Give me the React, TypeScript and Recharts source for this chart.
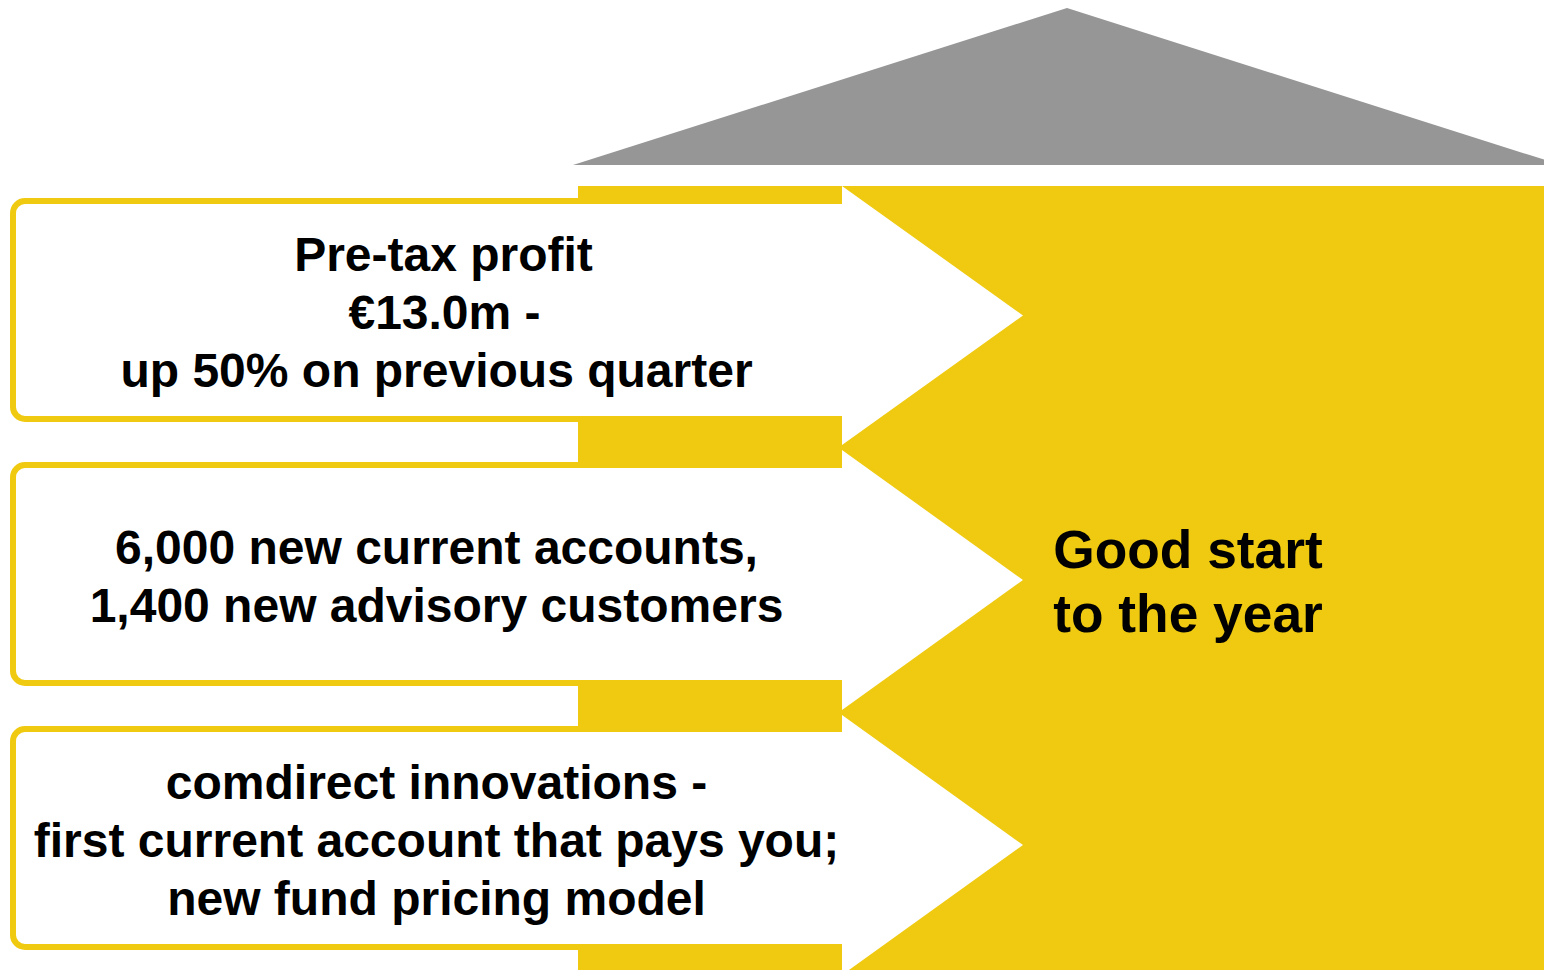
import React from 'react';
import { ComposedChart, XAxis, YAxis, ReferenceArea } from 'recharts';

// ---- content ----
const profitLines = ['Pre-tax profit', '€13.0m -', 'up 50% on previous quarter'];
const customerLines = ['6,000 new current accounts,', '1,400 new advisory customers'];
const innovationLines = ['comdirect innovations -', 'first current account that pays you;', 'new fund pricing model'];
const headlineLines = ['Good start', 'to the year'];
const messages = [profitLines, customerLines, innovationLines];

// ---- layout in chart units (axes map 1 unit = 1 px) ----
const boxTops = [201, 465, 729];
const boxBottoms = [419, 683, 947];
const arrowTops = [186, 450, 715];
const arrowBottoms = [445, 710, 975];
const lineShifts = [[7, 8, 0], [0, 0], [0, 0, 0]];

const YELLOW = '#EFCA11';
const GREY = '#969696';
const FONT = '"Liberation Sans", Arial, Helvetica, sans-serif';

const W = 1544;
const H = 970;

const makeBoxShape = (lines: string[], shifts: number[]) => (props: any) => {
  const { x, y, width, height } = props;
  const cx = x + width / 2;
  const cy = y + height / 2;
  const lh = 58;
  const first = cy - ((lines.length - 1) * lh) / 2 + 19;
  return (
    <g>
      <rect x={x} y={y} width={width} height={height} rx={12} ry={12} fill="#ffffff" stroke={YELLOW} strokeWidth={6} />
      <text textAnchor="middle" fontFamily={FONT} fontWeight="bold" fontSize={48} fill="#000000">
        {lines.map((l, i) => (
          <tspan key={i} x={cx + (shifts[i] || 0)} y={first + i * lh}>
            {l}
          </tspan>
        ))}
      </text>
    </g>
  );
};

const arrowShape = (props: any) => {
  const { x, y, width, height } = props;
  const pts = `${x},${y} ${x + width},${y + height / 2} ${x},${y + height}`;
  return <polygon points={pts} fill="#ffffff" stroke="none" />;
};

const roofShape = (props: any) => {
  const { x, y, width, height } = props;
  const pts = `${x},${y + height} ${x + width / 2},${y} ${x + width},${y + height}`;
  return <polygon points={pts} fill={GREY} stroke="none" />;
};

const headlineShape = (props: any) => {
  const { x, y, width, height } = props;
  const cx = x + width / 2;
  const cy = y + height / 2;
  const lh = 64;
  const first = cy - ((headlineLines.length - 1) * lh) / 2 + 19;
  return (
    <text textAnchor="middle" fontFamily={FONT} fontWeight="bold" fontSize={53.3} fill="#000000">
      {headlineLines.map((l, i) => (
        <tspan key={i} x={cx} y={first + i * lh}>
          {l}
        </tspan>
      ))}
    </text>
  );
};

const bgShape = (props: any) => {
  const { x, y, width, height } = props;
  return <rect x={x} y={y} width={width} height={height} fill={YELLOW} stroke="none" />;
};

export default function App() {
  return (
    <div style={{ position: 'absolute', left: 0, top: 0, width: W, height: H, background: '#ffffff' }}>
      <ComposedChart width={W} height={H} data={[{ x: 0, y: 0 }, { x: W, y: H }]} margin={{ top: 0, right: 0, bottom: 0, left: 0 }}>
        <XAxis type="number" dataKey="x" domain={[0, W]} allowDataOverflow hide />
        <YAxis type="number" dataKey="y" domain={[0, H]} allowDataOverflow reversed hide />
        <ReferenceArea x1={573} x2={1561} y1={8} y2={165} ifOverflow="hidden" shape={roofShape} />
        <ReferenceArea x1={578} x2={1544} y1={186} y2={970} ifOverflow="hidden" shape={bgShape} />
        {messages.map((lines, i) => (
          <ReferenceArea
            key={`box${i}`}
            x1={13}
            x2={860}
            y1={boxTops[i]}
            y2={boxBottoms[i]}
            ifOverflow="hidden"
            shape={makeBoxShape(lines, lineShifts[i])}
          />
        ))}
        {messages.map((_, i) => (
          <ReferenceArea
            key={`arrow${i}`}
            x1={842}
            x2={1023}
            y1={arrowTops[i]}
            y2={arrowBottoms[i]}
            ifOverflow="hidden"
            shape={arrowShape}
          />
        ))}
        <ReferenceArea x1={1055} x2={1321} y1={516} y2={646} ifOverflow="hidden" shape={headlineShape} />
      </ComposedChart>
    </div>
  );
}
